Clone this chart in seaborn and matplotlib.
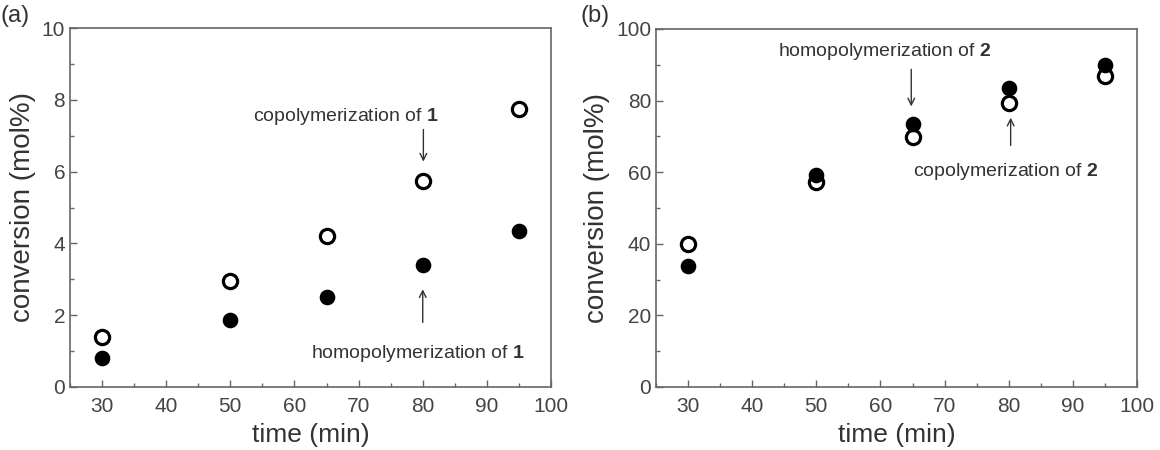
import matplotlib
matplotlib.use('Agg')
import matplotlib.pyplot as plt
import seaborn as sns
import pandas as pd
from matplotlib.ticker import MultipleLocator

sns.set_theme(style='ticks')
plt.rcParams['font.family'] = ['Liberation Sans', 'DejaVu Sans']
plt.rcParams['mathtext.fontset'] = 'custom'
plt.rcParams['mathtext.bf'] = 'Liberation Sans:bold'
plt.rcParams['mathtext.rm'] = 'Liberation Sans'

# data
time_min = [30, 50, 65, 80, 95]
a_copoly = [1.4, 2.95, 4.2, 5.75, 7.75]
a_homo = [0.8, 1.87, 2.5, 3.4, 4.35]
b_homo = [33.9, 59.2, 73.5, 83.5, 89.9]
b_copoly = [39.9, 57.2, 69.7, 79.3, 86.8]

frame_col = '#666666'
text_col = '#333333'

fig = plt.figure(figsize=(11.6, 4.5), dpi=100)
ax_a = fig.add_axes([70 / 1160, 1 - 387 / 450, 481 / 1160, 359 / 450])
ax_b = fig.add_axes([656 / 1160, 1 - 387 / 450, 481 / 1160, 358 / 450])


def style_axis(ax, ymax, ymajor, yminor):
  ax.set_xlim(25, 100)
  ax.set_ylim(0, ymax)
  ax.xaxis.set_major_locator(MultipleLocator(10))
  ax.xaxis.set_minor_locator(MultipleLocator(5))
  ax.yaxis.set_major_locator(MultipleLocator(ymajor))
  ax.yaxis.set_minor_locator(MultipleLocator(yminor))
  ax.set_xticks(range(30, 101, 10))
  ax.tick_params(which='both', direction='in', color=frame_col, labelcolor='#444444',
                 labelsize=15, width=1)
  ax.tick_params(which='major', length=5)
  ax.tick_params(which='minor', length=3)
  ax.tick_params(axis='x', pad=7)
  for s in ax.spines.values():
    s.set_color(frame_col)
    s.set_linewidth(1.2)
    s.set_visible(True)
  ax.set_xlabel('time (min)', fontsize=19, color=text_col, labelpad=5)
  ax.set_ylabel('conversion (mol%)', fontsize=20, color=text_col, labelpad=4)


def draw(ax, filled, hollow):
  df_f = pd.DataFrame({'t': time_min, 'c': filled})
  df_h = pd.DataFrame({'t': time_min, 'c': hollow})
  sns.scatterplot(data=df_h, x='t', y='c', ax=ax, s=105, facecolor='white',
                  edgecolor='black', linewidth=2.3, zorder=3, clip_on=False)
  sns.scatterplot(data=df_f, x='t', y='c', ax=ax, s=105, color='black',
                  edgecolor='black', linewidth=1, zorder=3, clip_on=False)


arrow = dict(arrowstyle='->', color='#333333', lw=1)
ann_kw = dict(fontsize=14, color=text_col)

draw(ax_a, a_homo, a_copoly)
style_axis(ax_a, 10, 2, 1)
ax_a.annotate('', xy=(80.1, 6.2), xytext=(80.1, 7.25), arrowprops=arrow)
ax_a.text(68, 7.53, r'copolymerization of $\mathbf{1}$', ha='center', va='center', **ann_kw)
ax_a.annotate('', xy=(80, 2.8), xytext=(80, 1.72), arrowprops=arrow)
ax_a.text(79.2, 0.93, r'homopolymerization of $\mathbf{1}$', ha='center', va='center', **ann_kw)

draw(ax_b, b_homo, b_copoly)
style_axis(ax_b, 100, 20, 10)
ax_b.annotate('', xy=(64.8, 77.6), xytext=(64.8, 89.5), arrowprops=arrow)
ax_b.text(60.6, 93.75, r'homopolymerization of $\mathbf{2}$', ha='center', va='center', **ann_kw)
ax_b.annotate('', xy=(80.3, 76.0), xytext=(80.3, 66.7), arrowprops=arrow)
ax_b.text(79.5, 60.2, r'copolymerization of $\mathbf{2}$', ha='center', va='center', **ann_kw)

fig.text(0, 1 - 16 / 450, '(a)', fontsize=17, color=text_col, va='center')
fig.text(580 / 1160, 1 - 16 / 450, '(b)', fontsize=17, color=text_col, va='center')

fig.savefig('out.png', dpi=100)
plt.close(fig)
